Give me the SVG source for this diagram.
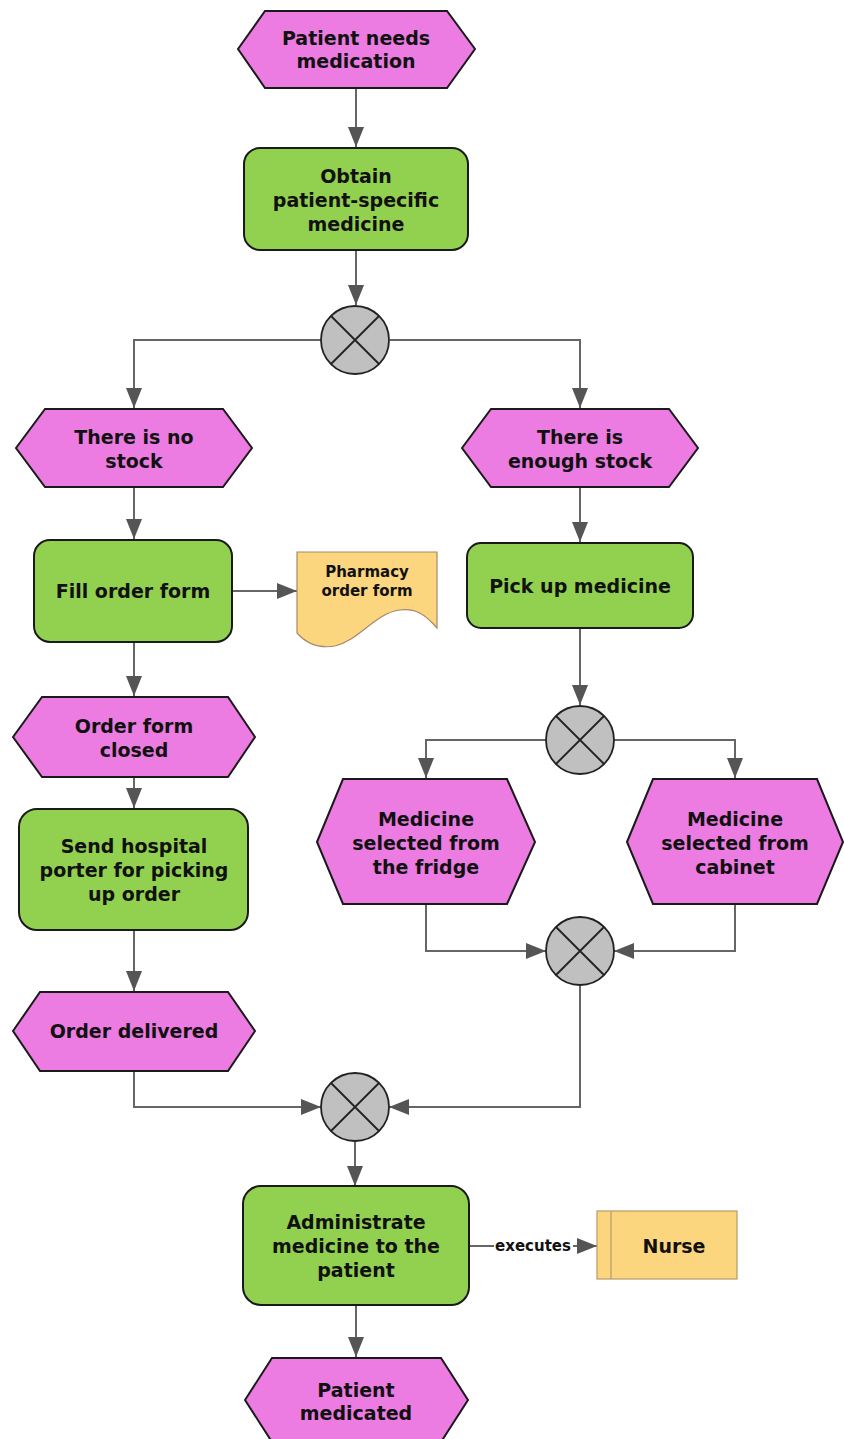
<svg xmlns="http://www.w3.org/2000/svg" width="844" height="1439" viewBox="0 0 844 1439">
<style>
.ev{fill:#ec7be2;stroke:#1a1a1a;stroke-width:2}
.fn{fill:#92d050;stroke:#1a1a1a;stroke-width:2}
.gw{fill:#c0c0c0;stroke:#222;stroke-width:1.8}
.gx{stroke:#222;stroke-width:1.8}
.doc{fill:#fbd67f;stroke:#a8876a;stroke-width:1.2}
.t{font-family:"DejaVu Sans",Verdana,sans-serif;font-weight:bold;font-size:19px;fill:#111;text-anchor:middle}
.ts{font-size:15px}
.c{fill:none;stroke:#666;stroke-width:2}
</style>
<defs>
<marker id="ah" markerUnits="userSpaceOnUse" markerWidth="20" markerHeight="16" refX="20" refY="8" orient="auto">
<path d="M0,0 L20,8 L0,16 z" fill="#555"/>
</marker>
</defs>
<rect width="844" height="1439" fill="#fff"/>
<g id="connectors">
<path class="c" d="M356,88 V147" marker-end="url(#ah)"/>
<path class="c" d="M356,250 V305" marker-end="url(#ah)"/>
<path class="c" d="M321,340 H134 V408" marker-end="url(#ah)"/>
<path class="c" d="M390,340 H580 V408" marker-end="url(#ah)"/>
<path class="c" d="M134,487 V539" marker-end="url(#ah)"/>
<path class="c" d="M580,487 V542" marker-end="url(#ah)"/>
<path class="c" d="M232,591 H297" marker-end="url(#ah)"/>
<path class="c" d="M134,642 V696" marker-end="url(#ah)"/>
<path class="c" d="M580,628 V705" marker-end="url(#ah)"/>
<path class="c" d="M546,740 H426 V778" marker-end="url(#ah)"/>
<path class="c" d="M614,740 H735 V778" marker-end="url(#ah)"/>
<path class="c" d="M134,777 V808" marker-end="url(#ah)"/>
<path class="c" d="M426,904 V951 H546" marker-end="url(#ah)"/>
<path class="c" d="M735,904 V951 H614" marker-end="url(#ah)"/>
<path class="c" d="M134,930 V991" marker-end="url(#ah)"/>
<path class="c" d="M134,1071 V1107 H321" marker-end="url(#ah)"/>
<path class="c" d="M580,986 V1107 H389" marker-end="url(#ah)"/>
<path class="c" d="M355,1141 V1186" marker-end="url(#ah)"/>
<path class="c" d="M469,1246 H597" marker-end="url(#ah)"/>
<rect x="494" y="1237" width="79" height="18" fill="#fff"/>
<text class="t ts" x="533" y="1251">executes</text>
<path class="c" d="M356,1305 V1357" marker-end="url(#ah)"/>
</g>
<g id="ev-patient-needs">
<polygon class="ev" points="238,49 265,11 447,11 475,49 447,88 265,88"/>
<text class="t" x="356" y="45">Patient needs</text>
<text class="t" x="356" y="68">medication</text>
</g>
<g id="fn-obtain">
<rect class="fn" x="244" y="148" width="224" height="102" rx="16"/>
<text class="t" x="356" y="183">Obtain</text>
<text class="t" x="356" y="207">patient-specific</text>
<text class="t" x="356" y="231">medicine</text>
</g>
<g id="gw1">
<circle class="gw" cx="355" cy="340" r="34"/>
<path class="gx" d="M331,316 L379,364 M379,316 L331,364"/>
</g>
<g id="ev-no-stock">
<polygon class="ev" points="16,448 45,409 223,409 252,448 223,487 45,487"/>
<text class="t" x="134" y="444">There is no</text>
<text class="t" x="134" y="468">stock</text>
</g>
<g id="ev-enough-stock">
<polygon class="ev" points="462,448 491,409 669,409 698,448 669,487 491,487"/>
<text class="t" x="580" y="444">There is</text>
<text class="t" x="580" y="468">enough stock</text>
</g>
<g id="fn-fill-order">
<rect class="fn" x="34" y="540" width="198" height="102" rx="16"/>
<text class="t" x="133" y="598">Fill order form</text>
</g>
<g id="doc-pharmacy">
<path class="doc" d="M297,552 H437 V628 C425,614 415,608 400,610 C375,613 360,640 335,646 C318,649 305,642 297,633 Z"/>
<text class="t ts" x="367" y="577">Pharmacy</text>
<text class="t ts" x="367" y="596">order form</text>
</g>
<g id="fn-pickup">
<rect class="fn" x="467" y="543" width="226" height="85" rx="14"/>
<text class="t" x="580" y="593">Pick up medicine</text>
</g>
<g id="ev-order-closed">
<polygon class="ev" points="13,737 42,697 228,697 255,737 228,777 42,777"/>
<text class="t" x="134" y="733">Order form</text>
<text class="t" x="134" y="757">closed</text>
</g>
<g id="gw2">
<circle class="gw" cx="580" cy="740" r="34"/>
<path class="gx" d="M556,716 L604,764 M604,716 L556,764"/>
</g>
<g id="ev-fridge">
<polygon class="ev" points="317,842 343,779 507,779 535,842 507,904 343,904"/>
<text class="t" x="426" y="826">Medicine</text>
<text class="t" x="426" y="850">selected from</text>
<text class="t" x="426" y="874">the fridge</text>
</g>
<g id="ev-cabinet">
<polygon class="ev" points="627,842 653,779 817,779 843,842 817,904 653,904"/>
<text class="t" x="735" y="826">Medicine</text>
<text class="t" x="735" y="850">selected from</text>
<text class="t" x="735" y="874">cabinet</text>
</g>
<g id="fn-send-porter">
<rect class="fn" x="19" y="809" width="229" height="121" rx="18"/>
<text class="t" x="134" y="853">Send hospital</text>
<text class="t" x="134" y="877">porter for picking</text>
<text class="t" x="134" y="901">up order</text>
</g>
<g id="gw3">
<circle class="gw" cx="580" cy="951" r="34"/>
<path class="gx" d="M556,927 L604,975 M604,927 L556,975"/>
</g>
<g id="ev-order-delivered">
<polygon class="ev" points="13,1031 40,992 228,992 255,1031 228,1071 40,1071"/>
<text class="t" x="134" y="1038">Order delivered</text>
</g>
<g id="gw4">
<circle class="gw" cx="355" cy="1107" r="34"/>
<path class="gx" d="M331,1083 L379,1131 M379,1083 L331,1131"/>
</g>
<g id="fn-administrate">
<rect class="fn" x="243" y="1186" width="226" height="119" rx="18"/>
<text class="t" x="356" y="1229">Administrate</text>
<text class="t" x="356" y="1253">medicine to the</text>
<text class="t" x="356" y="1277">patient</text>
</g>
<g id="role-nurse">
<rect x="597" y="1211" width="140" height="68" fill="#fbd67f" stroke="#b89a6a" stroke-width="1.2"/>
<line x1="611" y1="1211" x2="611" y2="1279" stroke="#b89a6a" stroke-width="1.2"/>
<text class="t" x="674" y="1253">Nurse</text>
</g>
<g id="ev-patient-medicated">
<polygon class="ev" points="245,1400 272,1358 441,1358 468,1400 441,1442 272,1442"/>
<text class="t" x="356" y="1397">Patient</text>
<text class="t" x="356" y="1420">medicated</text>
</g>
</svg>
